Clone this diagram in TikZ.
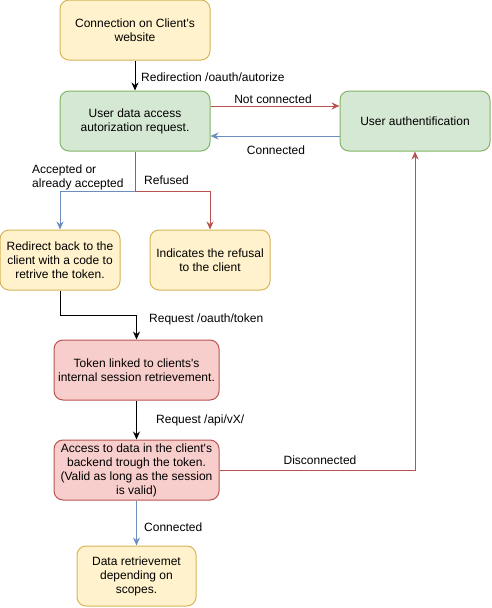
\documentclass[tikz,border=0pt]{standalone}
\usepackage{fontspec}
\setmainfont{Liberation Sans}
\usetikzlibrary{arrows.meta}
\definecolor{yfill}{HTML}{FFF2CC}
\definecolor{ydraw}{HTML}{D6B656}
\definecolor{gfill}{HTML}{D5E8D4}
\definecolor{gdraw}{HTML}{82B366}
\definecolor{rfill}{HTML}{F8CECC}
\definecolor{rdraw}{HTML}{B85450}
\definecolor{bline}{HTML}{6C8EBF}
\tikzset{
  box/.style={draw, rounded corners=9pt, line width=1pt, align=center, inner sep=2pt,
    font=\fontsize{12}{14}\selectfont},
  ybox/.style={box, fill=yfill, draw=ydraw},
  gbox/.style={box, fill=gfill, draw=gdraw},
  rbox/.style={box, fill=rfill, draw=rdraw},
  arr/.style={line width=1pt, -{Stealth[length=8pt,width=7pt]}},
  karr/.style={arr, draw=black},
  rarr/.style={arr, draw=rdraw},
  barr/.style={arr, draw=bline},
  lbl/.style={inner sep=0pt, font=\fontsize{12}{14}\selectfont, align=left}
}
\begin{document}
\begin{tikzpicture}[x=1pt,y=-1pt]
\useasboundingbox (0,0) rectangle (491,608);
\node[ybox, minimum width=150pt, minimum height=60pt] (A) at (135,30) {Connection on Client\textquotesingle s\\website};
\node[gbox, minimum width=150pt, minimum height=60pt] (B) at (135,121) {User data access\\autorization request.};
\node[gbox, minimum width=150pt, minimum height=60pt] (C) at (415,121) {User authentification};
\node[ybox, minimum width=120pt, minimum height=60pt] (D) at (60,260) {Redirect back to the\\client with a code to\\retrive the token.};
\node[ybox, minimum width=120pt, minimum height=60pt] (E) at (210,260) {Indicates the refusal\\to the client};
\node[rbox, minimum width=165pt, minimum height=60pt] (F) at (136.5,370) {Token linked to clients\textquotesingle s\\internal session retrievement.};
\node[rbox, minimum width=165pt, minimum height=60pt] (G) at (136.5,470) {Access to data in the client\textquotesingle s\\backend trough the token.\\(Valid as long as the session\\is valid)};
\node[ybox, minimum width=119pt, minimum height=60pt] (H) at (136.5,576) {Data retrievemet\\depending on\\scopes.};
\coordinate (split) at (135,191);
\coordinate (bend) at (60,315);

\draw[karr] (A.south) -- (B.north);
\draw[rarr] ([yshift=15pt]B.east) -- ([yshift=15pt]C.west);
\draw[barr] ([yshift=-15pt]C.west) -- ([yshift=-15pt]B.east);
\draw[line width=1pt, draw=rdraw] (B.south) -- (split);
\draw[rarr] (split) -| (E.north);
\draw[barr] (split) -| (D.north);
\draw[karr] (D.south) -- (bend) -| (F.north);
\draw[karr] (F.south) -- (G.north);
\draw[rarr] (G.east) -| (C.south);
\draw[barr] (G.south) -- (H.north);

\node[lbl, anchor=west] (l1) at (141,77) {Redirection /oauth/autorize};
\node[lbl] (l2) at (273,99) {Not connected};
\node[lbl] (l3) at (276,150) {Connected};
\node[lbl, anchor=west] (l4) at (32,177) {Accepted or\\already accepted};
\node[lbl, anchor=west] (l5) at (144,180) {Refused};
\node[lbl, anchor=west] (l6) at (149,319) {Request /oauth/token};
\node[lbl, anchor=west] (l7) at (156,420) {Request /api/vX/};
\node[lbl] (l8) at (320,460) {Disconnected};
\node[lbl, anchor=west] (l9) at (144,527) {Connected};
\end{tikzpicture}
\end{document}
